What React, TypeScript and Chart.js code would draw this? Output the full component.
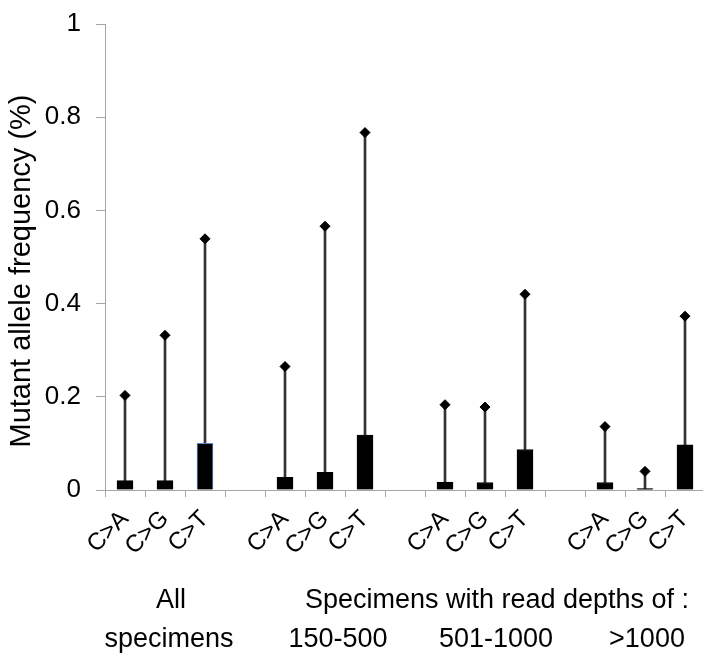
import React, { useEffect, useRef } from "react";
import { Chart, registerables } from "chart.js";

Chart.register(...registerables);

const categories = ["C>A", "C>G", "C>T", "", "C>A", "C>G", "C>T", "", "C>A", "C>G", "C>T", "", "C>A", "C>G", "C>T"];
const meanValues = [0.02, 0.02, 0.1, null, 0.027, 0.038, 0.118, null, 0.017, 0.016, 0.087, null, 0.016, 0.003, 0.097];
const maxValues = [0.203, 0.332, 0.539, null, 0.265, 0.566, 0.767, null, 0.183, 0.178, 0.42, null, 0.136, 0.04, 0.373];
const yTicks = [0, 0.2, 0.4, 0.6, 0.8, 1];
const yTitle = "Mutant allele frequency (%)";
const groupLabelsTop = ["All", "Specimens with read depths of :"];
const groupLabelsBottom = ["specimens", "150-500", "501-1000", ">1000"];

const FONT = "'Liberation Sans', Arial, sans-serif";

export default function App() {
  const ref = useRef<HTMLCanvasElement | null>(null);

  useEffect(() => {
    if (!ref.current) return;
    const whiskers = meanValues.map((m, i) => (m === null || maxValues[i] === null ? null : [m, maxValues[i]]));
    const textPlugin = {
      id: "groupText",
      afterDraw(chart: any) {
        const ctx = chart.ctx;
        ctx.save();
        ctx.fillStyle = "#000";
        ctx.font = `27px ${FONT}`;
        ctx.textAlign = "center";
        ctx.textBaseline = "middle";
        ctx.fillText(groupLabelsTop[0], 171, 601);
        ctx.fillText(groupLabelsTop[1], 497, 601);
        const xs = [169, 338, 496, 647];
        groupLabelsBottom.forEach((t, i) => ctx.fillText(t, xs[i], 640));
        ctx.restore();

        ctx.save();
        ctx.fillStyle = "#000";
        ctx.font = `29px ${FONT}`;
        ctx.textAlign = "center";
        ctx.textBaseline = "middle";
        ctx.translate(22, 271);
        ctx.rotate(-Math.PI / 2);
        ctx.fillText(yTitle, 0, 0);
        ctx.restore();
      },
    };
    const chart = new Chart(ref.current, {
      type: "bar",
      data: {
        labels: categories,
        datasets: [
          {
            type: "line",
            data: maxValues as any,
            showLine: false,
            pointStyle: "rectRot",
            pointRadius: 5,
            pointBackgroundColor: "#000",
            pointBorderColor: "#000",
            order: 0,
          } as any,
          {
            data: meanValues as any,
            backgroundColor: "#000",
            borderColor: meanValues.map((_, i) => (i === 2 ? "#5b8ac6" : "#000")),
            borderWidth: 1,
            barThickness: 16,
            grouped: false,
            order: 1,
          } as any,
          {
            data: whiskers as any,
            backgroundColor: "#333",
            borderWidth: 0,
            barThickness: 2,
            grouped: false,
            order: 2,
          } as any,
        ],
      },
      options: {
        responsive: false,
        animation: false,
        devicePixelRatio: 1,
        layout: { padding: { top: 24, left: 0, right: 0, bottom: 0 } },
        plugins: { legend: { display: false }, tooltip: { enabled: false } },
        scales: {
          x: {
            offset: true,
            grid: {
              offset: true,
              drawOnChartArea: false,
              drawTicks: true,
              tickLength: 7,
              color: "#a6a6a6",
            },
            border: { color: "#a6a6a6", width: 1 },
            ticks: {
              autoSkip: false,
              maxRotation: 45,
              minRotation: 45,
              color: "#000",
              font: { family: FONT, size: 24 },
              padding: 8,
            },
            afterFit(scale: any) {
              scale.height = 164;
              scale.paddingRight = 0;
              scale.paddingLeft = 0;
            },
          },
          y: {
            min: 0,
            max: 1,
            afterBuildTicks(scale: any) {
              scale.ticks = yTicks.map((v) => ({ value: v }));
            },
            grid: {
              drawOnChartArea: false,
              drawTicks: true,
              tickLength: 9,
              color: "#a6a6a6",
            },
            border: { color: "#a6a6a6", width: 1 },
            ticks: {
              color: "#000",
              font: { family: FONT, size: 26 },
              padding: 15,
              callback: (v: any) => String(Number(v)),
            },
            afterFit(scale: any) {
              scale.width = 105;
              scale.paddingTop = 0;
              scale.paddingBottom = 0;
            },
          },
        },
      },
      plugins: [textPlugin],
    });
    return () => chart.destroy();
  }, []);

  return (
    <div style={{ position: "fixed", left: 0, top: 0, width: 703, height: 654, overflow: "hidden", background: "#fff" }}>
      <canvas ref={ref} width={711} height={654} style={{ width: 711, height: 654, display: "block" }} />
    </div>
  );
}
